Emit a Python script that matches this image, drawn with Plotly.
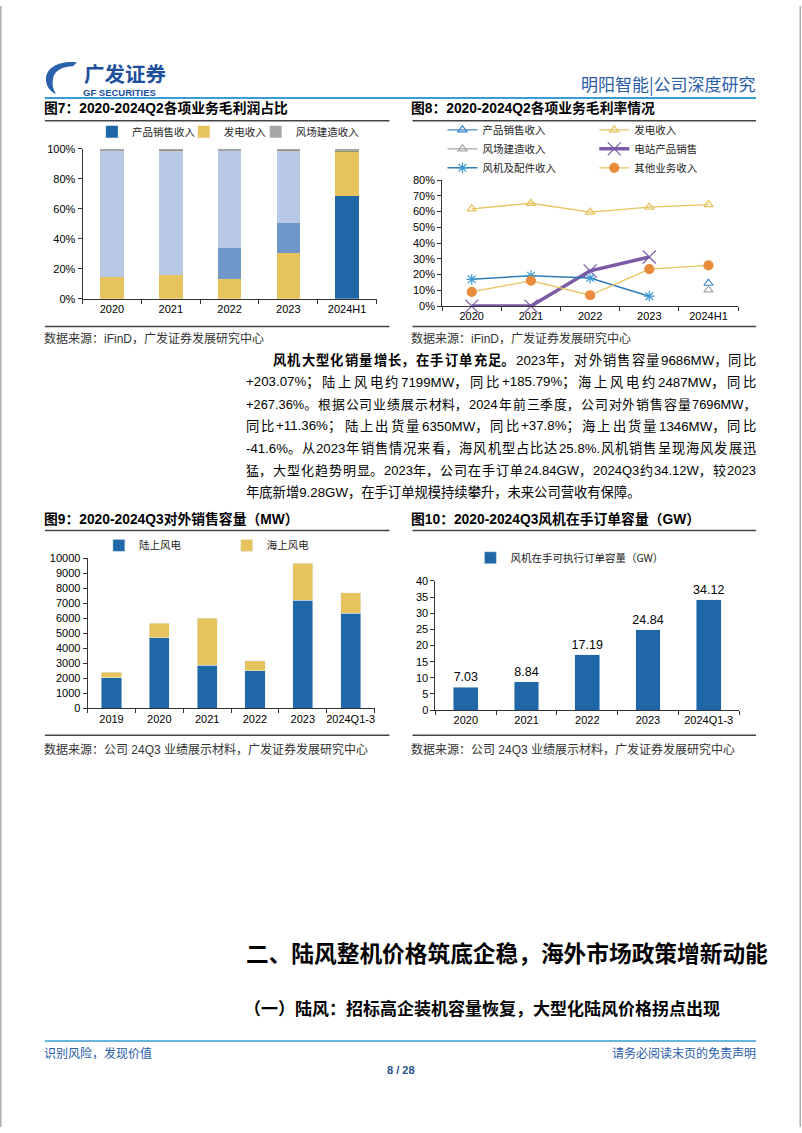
import plotly.graph_objects as go

W, H = 802, 1133
def px(x): return x / W
def py(y): return 1 - y / H

CJK = "Noto Sans CJK SC"
MIX = "Liberation Sans, Arial, Noto Sans CJK SC"

# ---------------- data ----------------
# Fig 7: gross profit share (%)
cats7 = ["2020", "2021", "2022", "2023", "2024H1"]
share_prod = [0, 0, 0, 0, 68.8]          # 产品销售收入
share_power = [14.7, 16.0, 13.2, 30.3, 29.2]  # 发电收入
share_station = [0, 0, 20.4, 20.5, 0]    # 电站产品销售
share_turbine = [84.6, 82.8, 65.7, 48.0, 0]   # 风机及配件收入
share_other = [0, 0.8, 0, 0.8, 1.2]      # 其他业务收入
share_build = [0.7, 0.4, 0.7, 0.4, 0.8]  # 风场建造收入

# Fig 8: gross margin (%)
cats8 = ["2020", "2021", "2022", "2023", "2024H1"]
gm_prod = [None, None, None, None, 14.5]
gm_power = [61.8, 65.3, 59.7, 62.8, 64.5]
gm_build = [None, None, None, None, 10.3]
gm_station = [0, 0, 22.4, 31.2, None]
gm_turbine = [17.0, 19.3, 17.8, 6.3, None]
gm_other = [9.0, 16.1, 6.9, 23.5, 25.8]

# Fig 9: external sales capacity (MW)
cats9 = ["2019", "2020", "2021", "2022", "2023", "2024Q1-3"]
onshore9 = [2045, 4725, 2880, 2519, 7199, 6350]
offshore9 = [375, 945, 3140, 677, 2487, 1346]

# Fig 10: order backlog (GW)
cats10 = ["2020", "2021", "2022", "2023", "2024Q1-3"]
orders10 = [7.03, 8.84, 17.19, 24.84, 34.12]

# ---------------- colours ----------------
C_DBLUE = "#1f67a6"
C_YEL = "#e6c35c"
C_MBLUE = "#7097c9"
C_LBLUE = "#b7c9e4"
C_OLIVE = "#9a9466"
C_GRAY = "#a6a6a6"

fig = go.Figure()

# ---- Fig 7 ----
def bar7(name, vals, color, legend, show):
    fig.add_trace(go.Bar(x=cats7, y=vals, name=name, marker=dict(color=color, line=dict(width=0)),
                         width=0.4, xaxis="x", yaxis="y", legend=legend, showlegend=show))
bar7("产品销售收入", share_prod, C_DBLUE, "legend", True)
bar7("发电收入", share_power, C_YEL, "legend2", True)
bar7("电站产品销售", share_station, C_MBLUE, "legend", False)
bar7("风机及配件收入", share_turbine, C_LBLUE, "legend", False)
bar7("其他业务收入", share_other, C_OLIVE, "legend", False)
bar7("风场建造收入", share_build, C_GRAY, "legend3", True)

# ---- Fig 8 ----
def line8(name, vals, lcolor, lwidth, symbol, msize, mcolor, mline, legend):
    fig.add_trace(go.Scatter(x=cats8, y=vals, name=name, mode="lines+markers",
                             line=dict(color=lcolor, width=lwidth),
                             marker=dict(symbol=symbol, size=msize, color=mcolor,
                                         line=dict(color=mline, width=1.2)),
                             xaxis="x2", yaxis="y2", legend=legend, cliponaxis=False,
                             connectgaps=False))
line8("产品销售收入", gm_prod, "#3f86c4", 1.3, "triangle-up-open", 8, "#3f86c4", "#3f86c4", "legend4")
line8("发电收入", gm_power, C_YEL, 1.3, "triangle-up-open", 8, C_YEL, C_YEL, "legend5")
line8("风场建造收入", gm_build, C_GRAY, 1.3, "triangle-up-open", 8, C_GRAY, C_GRAY, "legend4")
line8("电站产品销售", gm_station, "#7b5aa6", 3.5, "x-thin-open", 13, "#7b5aa6", "#7b5aa6", "legend5")
line8("风机及配件收入", gm_turbine, "#2f7cb8", 1.5, "asterisk-open", 9, "#3d9ad1", "#3d9ad1", "legend4")
line8("其他业务收入", gm_other, C_YEL, 1.3, "circle", 9, "#e88b3c", "#e88b3c", "legend5")

# ---- Fig 9 ----
fig.add_trace(go.Bar(x=cats9, y=onshore9, name="陆上风电", marker=dict(color=C_DBLUE), width=0.42,
                     xaxis="x3", yaxis="y3", legend="legend6"))
fig.add_trace(go.Bar(x=cats9, y=offshore9, name="海上风电", marker=dict(color=C_YEL), width=0.42,
                     xaxis="x3", yaxis="y3", legend="legend7"))

# ---- Fig 10 ----
fig.add_trace(go.Bar(x=cats10, y=orders10, name="风机在手可执行订单容量（GW）", marker=dict(color=C_DBLUE),
                     width=0.41, xaxis="x4", yaxis="y4", legend="legend8",
                     text=orders10, texttemplate="%{y:.2f}", textposition="outside",
                     constraintext="none",
                     textfont=dict(family="Liberation Sans, Arial", size=12.5, color="#000"),
                     cliponaxis=False))

# ---------------- axes ----------------
tickfont = dict(family="Liberation Sans, Arial", size=11, color="#000")
base = dict(showline=True, linecolor="#333", linewidth=1, ticks="outside", ticklen=4,
            tickcolor="#333", showgrid=False, zeroline=False, tickfont=tickfont, fixedrange=True)

def xcat(domain, n, anchor):
    return dict(base, type="category", tickson="boundaries", domain=domain,
                range=[-0.5, n - 0.5], anchor=anchor, tickangle=0)

def ylin(domain, rng, dtick, anchor, suffix=""):
    return dict(base, domain=domain, range=rng, dtick=dtick, tick0=0, anchor=anchor,
                ticksuffix=suffix, tickformat="d")

legend_style = dict(xref="paper", yref="paper", xanchor="left", yanchor="top", orientation="v",
                    bgcolor="rgba(0,0,0,0)", tracegroupgap=0, itemwidth=30,
                    font=dict(family=CJK, size=10.5, color="#222"))
def leg(x, top):
    return dict(legend_style, x=px(x), y=py(top))

# ---------------- text annotations ----------------
ann = []
def text(x, y, s, size, color="#000", anchor="left", family=MIX):
    ann.append(dict(x=px(x), y=py(y), xref="paper", yref="paper", text=s, showarrow=False,
                    xanchor=anchor, yanchor="middle", borderpad=0, borderwidth=0,
                    font=dict(family=family, size=size, color=color)))

# header
text(84, 68, "<b>广发证券</b>", 20.5, "#1d4f9c", family=CJK)
text(83, 87.5, "<b>GF SECURITIES</b>", 9.5, "#1d4f9c", family="Liberation Sans, Arial")
text(757, 78, "明阳智能|公司深度研究", 17, "#2b5ea7", anchor="right", family=CJK)

# figure titles
text(44, 103, "<b>图7：2020-2024Q2各项业务毛利润占比</b>", 13.8)
text(412, 103, "<b>图8：2020-2024Q2各项业务毛利率情况</b>", 13.8)
text(44, 518, "<b>图9：2020-2024Q3对外销售容量（MW）</b>", 13.8)
text(412, 518, "<b>图10：2020-2024Q3风机在手订单容量（GW）</b>", 13.8)

# sources
src1 = "数据来源：iFinD，广发证券发展研究中心"
src2 = "数据来源：公司 24Q3 业绩展示材料，广发证券发展研究中心"
text(44, 336, src1, 12, "#333")
text(412, 336, src1, 12, "#333")
text(44, 751, src2, 12, "#333")
text(412, 751, src2, 12, "#333")

# ---- body paragraph, justified ----
BOLD_LEAD = "风机大型化销量增长，在手订单充足。"
para_lines = [
    "风机大型化销量增长，在手订单充足。2023年，对外销售容量9686MW，同比",
    "+203.07%；陆上风电约7199MW，同比+185.79%；海上风电约2487MW，同比",
    "+267.36%。根据公司业绩展示材料，2024年前三季度，公司对外销售容量7696MW，",
    "同比+11.36%；陆上出货量6350MW，同比+37.8%；海上出货量1346MW，同比",
    "-41.6%。从2023年销售情况来看，海风机型占比达25.8%.风机销售呈现海风发展迅",
    "猛，大型化趋势明显。2023年，公司在手订单24.84GW，2024Q3约34.12W，较2023",
    "年底新增9.28GW，在手订单规模持续攀升，未来公司营收有保障。",
]
line_y = [358, 380.3, 402.6, 424.9, 447.2, 469.5, 491.8]
PUNCT = "，；。、："
AR = {"0": .556, "1": .556, "2": .556, "3": .556, "4": .556, "5": .556, "6": .556, "7": .556,
      "8": .556, "9": .556, ".": .278, "%": .889, "+": .584, "-": .333, "M": .833, "W": .944,
      "G": .778, "Q": .778, " ": .278}

def is_cjk(ch):
    return ord(ch) > 0x2E80

def em(s):
    return sum(1.0 if is_cjk(c) else AR.get(c, .6) for c in s)

def tokenize(s):
    toks, cur = [], ""
    for ch in s:
        if cur:
            last = cur[-1]
            if ch in PUNCT:
                pass
            elif last in PUNCT or is_cjk(ch) or is_cjk(last):
                toks.append(cur); cur = ""
        cur += ch
    if cur:
        toks.append(cur)
    return toks

FS = 13.3
MIN_GAP = 1.0
LEFT, RIGHT, INDENT = 246, 757, 273
for i, line in enumerate(para_lines):
    x0 = INDENT if i == 0 else LEFT
    y = line_y[i]
    if i == len(para_lines) - 1:
        text(x0, y, line, FS, "#000")
        continue
    toks = tokenize(line)
    ems = [em(t) for t in toks]
    fs = min(FS, (RIGHT - x0 - MIN_GAP * (len(toks) - 1)) / sum(ems))
    widths = [e * fs for e in ems]
    gap = (RIGHT - x0 - sum(widths)) / (len(toks) - 1)
    pos = x0
    nbold = len(BOLD_LEAD) if i == 0 else 0
    consumed = 0
    for j, (t, w) in enumerate(zip(toks, widths)):
        s = f"<b>{t}</b>" if consumed < nbold else t
        consumed += len(t)
        if j == len(toks) - 1:
            text(RIGHT, y, s, fs, "#000", anchor="right")
        else:
            text(pos, y, s, fs, "#000")
        pos += w + gap

# headings
text(246, 957, "<b>二、陆风整机价格筑底企稳，海外市场政策增新动能</b>", 22.7, "#000", family=CJK)
text(244, 1012, "<b>（一）陆风：招标高企装机容量恢复，大型化陆风价格拐点出现</b>", 17, "#000", family=CJK)

# footer
text(44, 1058, "识别风险，发现价值", 12, "#1f5ca8", family=CJK)
text(757, 1058, "请务必阅读末页的免责声明", 12, "#1f5ca8", anchor="right", family=CJK)
text(401, 1075, "<b>8 / 28</b>", 11, "#1f4e8c", anchor="center", family="Liberation Sans Narrow, Liberation Sans, Arial")

# ---------------- shapes ----------------
shapes = []
def hline(x0, x1, y, color, width):
    shapes.append(dict(type="line", xref="paper", yref="paper", x0=px(x0), x1=px(x1),
                       y0=py(y), y1=py(y), line=dict(color=color, width=width)))
def vline(x, y0, y1, color, width):
    shapes.append(dict(type="line", xref="paper", yref="paper", x0=px(x), x1=px(x),
                       y0=py(y0), y1=py(y1), line=dict(color=color, width=width)))
def path(pts_cmds, fill):
    s = ""
    for cmd, pts in pts_cmds:
        s += cmd + " " + " ".join(f"{px(a):.5f},{py(b):.5f}" for a, b in pts) + " "
    s += "Z"
    shapes.append(dict(type="path", xref="paper", yref="paper", path=s, fillcolor=fill,
                       line=dict(width=0)))

hline(45, 757, 93, "#3a9bd5", 2)
hline(45, 390, 116, "#444", 1.5)
hline(413, 757, 116, "#444", 1.5)
hline(45, 390, 324, "#444", 1.5)
hline(413, 757, 324, "#444", 1.5)
hline(45, 390, 530, "#444", 1.5)
hline(413, 757, 530, "#444", 1.5)
hline(45, 390, 737, "#444", 1.5)
hline(413, 757, 737, "#444", 1.5)
hline(45, 757, 1046, "#3a9bd5", 1.5)
vline(0.8, 0, 1133, "#9a9a9a", 1.2)
vline(801.2, 0, 1133, "#9a9a9a", 1.2)

# logo icon
path([("M", [(77, 57)]), ("C", [(60, 55), (46, 62), (46, 74)]), ("C", [(46, 81), (50, 86), (56, 89)]),
      ("C", [(53, 84), (52, 79), (53, 74)]), ("C", [(54, 66), (62, 61), (73, 61)])], "#2a62ad")
path([("M", [(60, 58)]), ("L", [(79, 58), (77, 64.5), (60, 64.5)])], "#e2382c")
path([("M", [(60, 58)]), ("L", [(66.5, 58), (63.5, 88), (57, 88)])], "#e2382c")
path([("M", [(62.5, 69.5)]), ("L", [(76, 69.5), (74, 75), (62, 75)])], "#e2382c")

fig.update_layout(
    width=W, height=H, margin=dict(l=0, r=0, t=0, b=0),
    paper_bgcolor="white", plot_bgcolor="rgba(0,0,0,0)",
    barmode="stack", showlegend=True,
    xaxis=xcat([px(82.7), px(377)], 5, "y"),
    yaxis=ylin([py(296), py(144.3)], [0, 100], 20, "x", "%"),
    xaxis2=xcat([px(442.7), px(739)], 5, "y2"),
    yaxis2=ylin([py(303.3), py(176)], [0, 80], 10, "x2", "%"),
    xaxis3=xcat([px(87.7), px(375)], 6, "y3"),
    yaxis3=ylin([py(710), py(558.3)], [0, 10000], 1000, "x3"),
    xaxis4=xcat([px(436), px(740)], 5, "y4"),
    yaxis4=ylin([py(711.7), py(581)], [0, 40], 5, "x4"),
    legend=leg(92, 112.5), legend2=leg(184, 112.5), legend3=leg(256, 112.5),
    legend4=leg(443, 110.5), legend5=leg(595, 110.5),
    legend6=leg(99, 530.5), legend7=leg(227, 530.5), legend8=leg(471, 543),
    annotations=ann, shapes=shapes,
    font=dict(family=MIX),
)

fig.write_html("out.html", config={"displayModeBar": False},
               post_script="document.body.style.margin='0px';document.body.style.overflow='hidden';")
